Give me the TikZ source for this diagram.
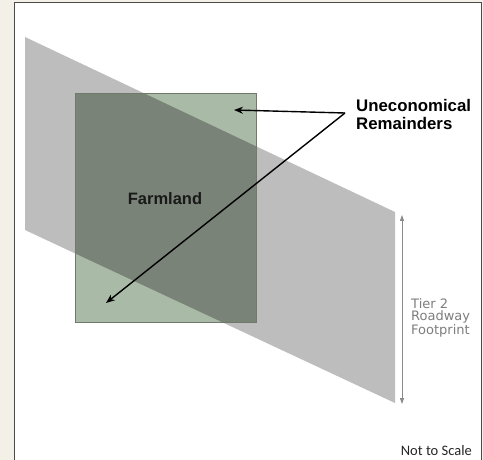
\documentclass[tikz,border=0pt]{standalone}
\usepackage{fontspec}
\setmainfont{Liberation Sans}
\newfontfamily\labelfont{Liberation Sans}
\newfontfamily\dimfont{DejaVu Sans}
\newfontfamily\notefont{Carlito}
\usetikzlibrary{arrows.meta}
\definecolor{beige}{HTML}{F3F0E8}
\definecolor{roadgray}{HTML}{BDBDBD}
\definecolor{farmgreen}{HTML}{A9BBA7}
\definecolor{overlap}{HTML}{7A8377}
\definecolor{farmedge}{HTML}{6F7A6C}
\definecolor{dimgray}{HTML}{8A8A8A}
\definecolor{dimtext}{HTML}{7E7E7E}
\definecolor{framegray}{HTML}{4A4A4A}
\tikzset{
  bigtext/.style={font=\labelfont\bfseries\fontsize{16.5}{17}\selectfont, text=black, inner sep=0pt},
  pointer/.style={draw=black, line width=1.4pt, -{Stealth[length=9pt,width=7pt]}},
  dimline/.style={draw=dimgray, line width=1pt, {Triangle[length=6pt,width=4pt]}-{Triangle[length=6pt,width=4pt]}},
}
\begin{document}
\begin{tikzpicture}[x=1pt,y=-1pt]
\useasboundingbox (0,0) rectangle (483,460);
\fill[beige] (0,0) rectangle (483,460);
\fill[white] (14,3) rectangle (481,470);
\draw[framegray, line width=1pt] (14,470) -- (14,3) -- (481,3) -- (481,470);
% roadway footprint
\fill[roadgray] (25,37) -- (395,212) -- (395,403) -- (25,230) -- cycle;
% farmland
\fill[farmgreen] (75,93) rectangle (256,322);
\begin{scope}
  \clip (25,37) -- (395,212) -- (395,403) -- (25,230) -- cycle;
  \fill[overlap] (75,93) rectangle (256,322);
\end{scope}
\draw[farmedge, line width=0.6pt] (75,93) rectangle (256,322);
\node[bigtext, text=black!90] (farm) at (165,199) {Farmland};
% uneconomical remainders
\node[bigtext, anchor=west, align=left, font=\labelfont\bfseries\fontsize{16.8}{18}\selectfont] (unecon) at (356,114) {Uneconomical\\Remainders};
\coordinate (vertex) at (345,113);
\coordinate (tipA) at (234,110);
\coordinate (tipB) at (106,303);
\draw[pointer] (vertex) -- (tipA);
\draw[pointer] (vertex) -- (tipB);
% dimension
\coordinate (dimtop) at (402,215);
\coordinate (dimbot) at (402,404);
\draw[dimline] (dimtop) -- (dimbot);
\node[font=\dimfont\fontsize{13}{11.6}\selectfont, text=dimtext, anchor=west, align=left, inner sep=0pt] (tier) at (411,318) {Tier 2\\Roadway\\Footprint};
% note
\node[font=\notefont\fontsize{14.5}{16}\selectfont, anchor=east, inner sep=0pt, text=black!85] (note) at (472,451) {Not to Scale};
\end{tikzpicture}
\end{document}
